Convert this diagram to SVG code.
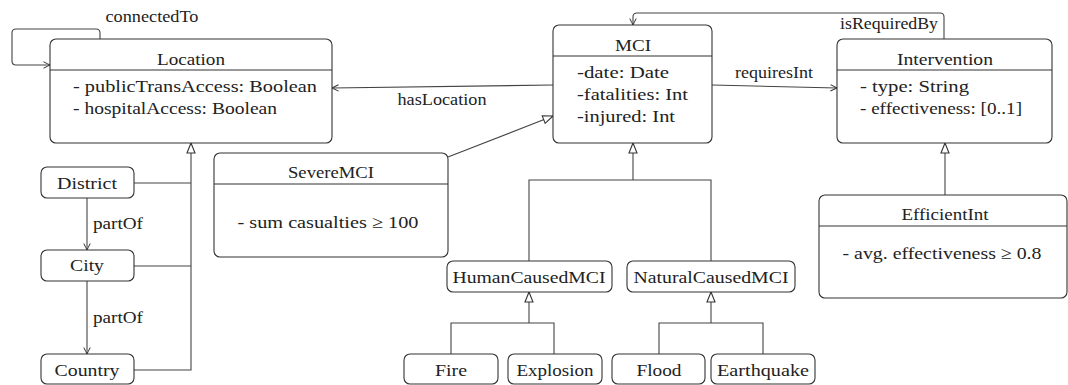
<svg xmlns="http://www.w3.org/2000/svg" width="1068" height="385" viewBox="0 0 1068 385" font-family="Liberation Serif, serif">
<style>
.box{fill:#fff;stroke:#333;stroke-width:1.1}
.sep{stroke:#333;stroke-width:1.1}
.t{font-size:17.5px;fill:#222}
.c{text-anchor:middle}
.ln{fill:none;stroke:#444;stroke-width:1.1}
.open{marker-end:url(#open)}
.gen{marker-end:url(#tri)}
</style>
<defs>
<marker id="open" viewBox="-8 -5 10 10" refX="0" refY="0" markerWidth="10" markerHeight="10" markerUnits="userSpaceOnUse" orient="auto">
<path d="M-6.5,-3.2 Q-2,-1 0,0 Q-2,1 -6.5,3.2" fill="none" stroke="#333" stroke-width="1"/>
</marker>
<marker id="tri" viewBox="-12 -6 14 12" refX="0" refY="0" markerWidth="14" markerHeight="12" markerUnits="userSpaceOnUse" orient="auto">
<path d="M0,0 L-10,-4 L-10,4 Z" fill="#fff" stroke="#333" stroke-width="1.1"/>
</marker>
</defs>

<g id="connectors">
<path class="ln open" d="M100,39 V33 Q100,29 96,29 H16 Q12,29 12,33 V61 Q12,65 16,65 H50"/>
<text class="t c" x="152" y="22" textLength="93" lengthAdjust="spacingAndGlyphs">connectedTo</text>
<path class="ln open" d="M553,85 L332,88"/>
<text class="t c" x="442" y="105" textLength="89" lengthAdjust="spacingAndGlyphs">hasLocation</text>
<path class="ln open" d="M712,85 L837,88"/>
<text class="t c" x="774" y="78" textLength="78" lengthAdjust="spacingAndGlyphs">requiresInt</text>
<path class="ln open" d="M944,39 V17 Q944,13 940,13 H637 Q633,13 633,17 V25"/>
<text class="t" x="840" y="29" textLength="98" lengthAdjust="spacingAndGlyphs">isRequiredBy</text>
<path class="ln gen" d="M448,157 L553,116"/>
<path class="ln" d="M134,183 H191 M134,266 H191"/>
<path class="ln gen" d="M134,370 H191 V143"/>
<path class="ln open" d="M87,198 V250"/>
<text class="t" x="93" y="229" textLength="50" lengthAdjust="spacingAndGlyphs">partOf</text>
<path class="ln open" d="M87,281 V354"/>
<text class="t" x="93" y="323" textLength="50" lengthAdjust="spacingAndGlyphs">partOf</text>
<path class="ln" d="M529,261 V180 H711 V261"/>
<path class="ln gen" d="M633,180 V143"/>
<path class="ln" d="M451,354 V323 H554 V354"/>
<path class="ln gen" d="M529,323 V292"/>
<path class="ln" d="M659,354 V323 H763 V354"/>
<path class="ln gen" d="M711,323 V292"/>
<path class="ln gen" d="M945,195 V143"/>
</g>

<g id="Location">
<rect class="box" x="50" y="39" width="282" height="104" rx="6"/>
<line class="sep" x1="50" y1="70" x2="332" y2="70"/>
<text class="t c" x="191" y="65" textLength="68" lengthAdjust="spacingAndGlyphs">Location</text>
<text class="t" x="73" y="92" textLength="244" lengthAdjust="spacingAndGlyphs">- publicTransAccess: Boolean</text>
<text class="t" x="73" y="114" textLength="204" lengthAdjust="spacingAndGlyphs">- hospitalAccess: Boolean</text>
</g>

<g id="MCI">
<rect class="box" x="553" y="25" width="159" height="118" rx="6"/>
<line class="sep" x1="553" y1="56" x2="712" y2="56"/>
<text class="t c" x="633" y="51" textLength="36" lengthAdjust="spacingAndGlyphs">MCI</text>
<text class="t" x="577" y="78" textLength="92" lengthAdjust="spacingAndGlyphs">-date: Date</text>
<text class="t" x="577" y="100" textLength="111" lengthAdjust="spacingAndGlyphs">-fatalities: Int</text>
<text class="t" x="577" y="122" textLength="98" lengthAdjust="spacingAndGlyphs">-injured: Int</text>
</g>

<g id="Intervention">
<rect class="box" x="837" y="39" width="215" height="104" rx="6"/>
<line class="sep" x1="837" y1="70" x2="1052" y2="70"/>
<text class="t c" x="945" y="65" textLength="96" lengthAdjust="spacingAndGlyphs">Intervention</text>
<text class="t" x="860" y="92" textLength="109" lengthAdjust="spacingAndGlyphs">- type: String</text>
<text class="t" x="860" y="114" textLength="162" lengthAdjust="spacingAndGlyphs">- effectiveness: [0..1]</text>
</g>

<g id="SevereMCI">
<rect class="box" x="214" y="153" width="234" height="104" rx="6"/>
<line class="sep" x1="214" y1="184" x2="448" y2="184"/>
<text class="t c" x="331" y="178" textLength="86" lengthAdjust="spacingAndGlyphs">SevereMCI</text>
<text class="t c" x="328" y="228" textLength="181" lengthAdjust="spacingAndGlyphs">- sum casualties ≥ 100</text>
</g>

<g id="EfficientInt">
<rect class="box" x="819" y="195" width="248" height="103" rx="6"/>
<line class="sep" x1="819" y1="226" x2="1067" y2="226"/>
<text class="t c" x="945" y="220" textLength="87" lengthAdjust="spacingAndGlyphs">EfficientInt</text>
<text class="t c" x="942" y="259" textLength="199" lengthAdjust="spacingAndGlyphs">- avg. effectiveness ≥ 0.8</text>
</g>

<g id="District">
<rect class="box" x="41" y="167" width="93" height="31" rx="6"/>
<text class="t c" x="87" y="189" textLength="60" lengthAdjust="spacingAndGlyphs">District</text>
</g>
<g id="City">
<rect class="box" x="41" y="250" width="93" height="31" rx="6"/>
<text class="t c" x="87" y="271" textLength="34" lengthAdjust="spacingAndGlyphs">City</text>
</g>
<g id="Country">
<rect class="box" x="41" y="354" width="93" height="30" rx="6"/>
<text class="t c" x="87" y="376" textLength="65" lengthAdjust="spacingAndGlyphs">Country</text>
</g>

<g id="HumanCausedMCI">
<rect class="box" x="447" y="261" width="165" height="31" rx="6"/>
<text class="t c" x="529" y="283" textLength="153" lengthAdjust="spacingAndGlyphs">HumanCausedMCI</text>
</g>
<g id="NaturalCausedMCI">
<rect class="box" x="627" y="261" width="168" height="31" rx="6"/>
<text class="t c" x="711" y="283" textLength="155" lengthAdjust="spacingAndGlyphs">NaturalCausedMCI</text>
</g>
<g id="Fire">
<rect class="box" x="404" y="354" width="94" height="30" rx="6"/>
<text class="t c" x="451" y="376" textLength="32" lengthAdjust="spacingAndGlyphs">Fire</text>
</g>
<g id="Explosion">
<rect class="box" x="508" y="354" width="94" height="30" rx="6"/>
<text class="t c" x="555" y="376" textLength="77" lengthAdjust="spacingAndGlyphs">Explosion</text>
</g>
<g id="Flood">
<rect class="box" x="612" y="354" width="93" height="30" rx="6"/>
<text class="t c" x="659" y="376" textLength="45" lengthAdjust="spacingAndGlyphs">Flood</text>
</g>
<g id="Earthquake">
<rect class="box" x="711" y="354" width="104" height="30" rx="6"/>
<text class="t c" x="763" y="376" textLength="92" lengthAdjust="spacingAndGlyphs">Earthquake</text>
</g>
</svg>
